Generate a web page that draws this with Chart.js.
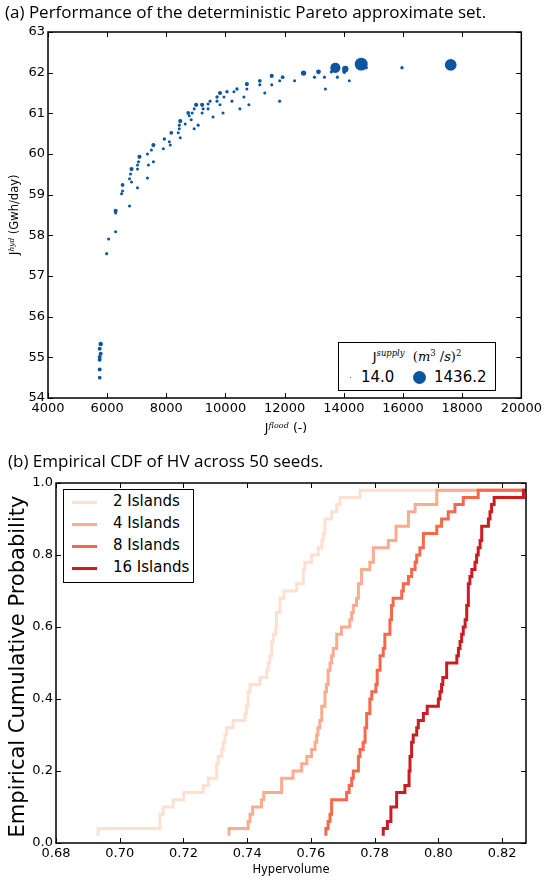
<!DOCTYPE html>
<html>
<head>
<meta charset="utf-8">
<script src="https://cdn.jsdelivr.net/npm/chart.js@4.4.0/dist/chart.umd.min.js"></script>
<style>
  body { margin: 0; background: #fff; }
  #page { position: relative; width: 545px; height: 884px; overflow: hidden; font-family: "DejaVu Sans", sans-serif; color: #000; }
  .box { position: absolute; }
  .txt { position: absolute; white-space: nowrap; line-height: 1; }
  .ttl { font-family: "Open Sans", sans-serif; font-size: 17px; }
  .math { font-family: "DejaVu Serif", serif; font-style: italic; }
  sup { font-size: 65%; line-height: 0; vertical-align: 0.55em; }
  .leg { position: absolute; border: 1px solid #000; background: #fff; box-sizing: border-box; }
  .dot { position: absolute; border-radius: 50%; background: #0d55a1; }
  .lsw { position: absolute; height: 3px; width: 25px; }
</style>
</head>
<body>
<div id="page">
  <div class="box" style="left:0;top:0;width:545px;height:440px;"><canvas id="chartA"></canvas></div>
  <div class="box" style="left:0;top:440px;width:545px;height:444px;"><canvas id="chartB"></canvas></div>

  <div class="txt ttl" style="left:5px;top:3px;">(a) Performance of the deterministic Pareto approximate set.</div>
  <div class="txt" style="left:48px;width:476px;top:422px;text-align:center;font-size:12.5px;">J<sup class="math">flood</sup> (-)</div>
  <div class="txt" style="left:-45px;top:209px;width:120px;text-align:center;font-size:11.5px;transform:rotate(-90deg);">J<sup class="math">hyd</sup> (Gwh/day)</div>

  <div class="leg" style="left:338px;top:342px;width:158px;height:49px;">
    <div class="txt" style="left:0;width:156px;top:7px;text-align:center;font-size:13px;">J<sup class="math">supply</sup>&nbsp; <span style="font-family:'DejaVu Serif',serif;">(<i>m</i><sup>3</sup> /<i>s</i>)<sup>2</sup></span></div>
    <div class="dot" style="left:11px;top:34px;width:1.4px;height:1.4px;"></div>
    <div class="txt" style="left:22px;top:27px;font-size:15px;">14.0</div>
    <div class="dot" style="left:74px;top:28px;width:13px;height:13px;"></div>
    <div class="txt" style="left:95px;top:27px;font-size:15px;">1436.2</div>
  </div>

  <div class="txt ttl" style="left:8px;top:452px;">(b) Empirical CDF of HV across 50 seeds.</div>
  <div class="txt" style="left:56px;width:470px;top:864px;text-align:center;font-size:11.5px;">Hypervolume</div>
  <div class="txt" style="left:-163px;top:656px;width:360px;text-align:center;font-size:21px;transform:rotate(-90deg);">Empirical Cumulative Probability</div>

  <div class="leg" style="left:63px;top:489px;width:131px;height:94px;" id="legB"></div>
</div>

<script>
// (a) deterministic Pareto approximate set
const floodX = [6050, 6286, 6286, 6286, 6756, 6487, 6521, 6521, 7025, 6756, 6823, 6790, 6823, 7025, 7361, 7025, 7059, 7092, 7395, 7563,
  7361, 7496, 7563, 7899, 7933, 8134, 8101, 8168, 8471, 8403, 8437, 8437, 8471, 8639, 8840, 8773, 8739, 8874, 8941, 9076,
  8941, 9008, 9210, 9210, 9244, 9412, 9412, 9479, 9580, 9714, 9714, 9815, 9815, 9916, 9949, 10050, 10218, 10286, 10387, 10487,
  10622, 10723, 10723, 10790, 11160, 11160, 11328, 11563, 11563, 11832, 11832, 11933, 12336, 12639, 13008, 13143, 13345, 13378, 13714, 13580,
  13782, 14050, 14017, 14185, 14588, 14756, 15966, 17613, 5983, 5781, 5748, 5781, 5748, 5748, 5748, 5748];
const hydY = [57.91, 58.09, 58.55, 58.60, 58.72, 59.02, 59.09, 59.24, 59.17, 59.39, 59.31, 59.51, 59.63, 59.63, 59.41, 59.73, 59.81, 59.93, 59.73, 59.81,
  60.00, 60.10, 60.22, 60.13, 60.37, 60.22, 60.30, 60.52, 60.40, 60.52, 60.62, 60.71, 60.81, 60.74, 60.84, 60.94, 61.01, 61.01, 60.62, 60.71,
  61.11, 61.21, 61.21, 61.01, 61.11, 61.11, 61.23, 61.30, 60.91, 61.30, 61.40, 61.50, 61.21, 61.01, 61.40, 61.53, 61.30, 61.53, 61.60, 61.11,
  61.40, 61.72, 61.60, 61.21, 61.80, 61.70, 61.50, 61.92, 61.70, 61.80, 61.30, 61.89, 61.80, 61.99, 61.89, 62.02, 61.89, 61.60, 62.12, 62.02,
  61.89, 62.09, 62.02, 61.80, 62.21, 62.12, 62.12, 62.19, 57.55, 55.33, 55.21, 55.09, 55.01, 54.94, 54.70, 54.50];
const supply = [80, 80, 80, 150, 80, 80, 80, 120, 80, 80, 80, 80, 150, 80, 80, 80, 80, 150, 80, 80,
  80, 80, 150, 80, 100, 80, 80, 120, 80, 80, 80, 80, 150, 80, 80, 80, 120, 80, 80, 80,
  80, 150, 150, 80, 80, 80, 80, 80, 80, 80, 100, 150, 80, 80, 80, 100, 80, 80, 100, 80,
  80, 150, 80, 80, 120, 80, 80, 150, 80, 80, 80, 120, 80, 250, 80, 200, 80, 80, 900, 100,
  80, 350, 150, 80, 1436.2, 100, 100, 1200, 80, 180, 140, 140, 140, 140, 140, 120];
const xTicksA = [4000, 6000, 8000, 10000, 12000, 14000, 16000, 18000, 20000];
const yTicksA = [54, 55, 56, 57, 58, 59, 60, 61, 62, 63];

// (b) empirical CDF: HV where the curve steps up, and the level reached
const hv2 = [0.6932, 0.7126, 0.7136, 0.7168, 0.7201, 0.7262, 0.7278, 0.7304, 0.7309, 0.7320, 0.7325, 0.7330, 0.7335, 0.7356, 0.7393, 0.7398, 0.7403, 0.7409, 0.7440, 0.7461,
  0.7466, 0.7471, 0.7477, 0.7482, 0.7490, 0.7492, 0.7503, 0.7515, 0.7555, 0.7576, 0.7581, 0.7602, 0.7623, 0.7634, 0.7639, 0.7644, 0.7665, 0.7681, 0.7691, 0.7754];
const p2 = [0.04, 0.08, 0.10, 0.12, 0.14, 0.16, 0.18, 0.22, 0.24, 0.26, 0.28, 0.30, 0.32, 0.34, 0.36, 0.38, 0.42, 0.44, 0.46, 0.48,
  0.50, 0.52, 0.56, 0.58, 0.60, 0.64, 0.68, 0.70, 0.72, 0.76, 0.78, 0.80, 0.82, 0.84, 0.86, 0.90, 0.92, 0.94, 0.96, 0.98];
const hv4 = [0.7343, 0.7403, 0.7409, 0.7417, 0.7445, 0.7452, 0.7508, 0.7544, 0.7571, 0.7587, 0.7602, 0.7613, 0.7618, 0.7622, 0.7628, 0.7634, 0.7644, 0.7649, 0.7654, 0.7660,
  0.7665, 0.7670, 0.7681, 0.7696, 0.7722, 0.7728, 0.7733, 0.7743, 0.7749, 0.7759, 0.7785, 0.7796, 0.7843, 0.7867, 0.7906, 0.7927, 0.7995];
const p4 = [0.04, 0.06, 0.08, 0.10, 0.12, 0.14, 0.18, 0.20, 0.22, 0.24, 0.26, 0.28, 0.30, 0.32, 0.34, 0.38, 0.42, 0.44, 0.48, 0.50,
  0.52, 0.54, 0.58, 0.60, 0.62, 0.64, 0.66, 0.68, 0.72, 0.76, 0.78, 0.82, 0.84, 0.88, 0.92, 0.94, 0.98];
const hv8 = [0.7647, 0.7654, 0.7660, 0.7665, 0.7712, 0.7720, 0.7728, 0.7733, 0.7749, 0.7754, 0.7764, 0.7770, 0.7775, 0.7785, 0.7791, 0.7804, 0.7808, 0.7817, 0.7827, 0.7832,
  0.7848, 0.7853, 0.7858, 0.7885, 0.7890, 0.7906, 0.7916, 0.7927, 0.7932, 0.7942, 0.7953, 0.7995, 0.8010, 0.8031, 0.8052, 0.8078, 0.8125];
const p8 = [0.04, 0.06, 0.08, 0.12, 0.14, 0.16, 0.18, 0.20, 0.24, 0.26, 0.28, 0.32, 0.36, 0.40, 0.42, 0.44, 0.48, 0.52, 0.54, 0.58,
  0.62, 0.66, 0.68, 0.70, 0.72, 0.74, 0.76, 0.78, 0.80, 0.82, 0.86, 0.88, 0.90, 0.92, 0.94, 0.96, 0.98];
const hv16 = [0.7827, 0.7840, 0.7851, 0.7869, 0.7895, 0.7908, 0.7911, 0.7916, 0.7921, 0.7932, 0.7937, 0.7953, 0.7965, 0.8000, 0.8005, 0.8010, 0.8014, 0.8026, 0.8058, 0.8063,
  0.8068, 0.8073, 0.8078, 0.8084, 0.8089, 0.8094, 0.8099, 0.8105, 0.8115, 0.8120, 0.8125, 0.8131, 0.8136, 0.8157, 0.8162, 0.8167, 0.8175, 0.8267];
const p16 = [0.04, 0.06, 0.10, 0.14, 0.16, 0.20, 0.24, 0.28, 0.30, 0.32, 0.34, 0.36, 0.38, 0.40, 0.42, 0.44, 0.46, 0.50, 0.52, 0.54,
  0.56, 0.58, 0.60, 0.62, 0.66, 0.72, 0.74, 0.76, 0.78, 0.80, 0.82, 0.84, 0.88, 0.90, 0.92, 0.94, 0.96, 0.98];
const seriesNames = ['2 Islands', '4 Islands', '8 Islands', '16 Islands'];
const seriesColors = ['#fde0d1', '#fcab8f', '#f5694a', '#cb1c22'];
const xTicksB = [0.68, 0.70, 0.72, 0.74, 0.76, 0.78, 0.80, 0.82];
const yTicksB = [0.0, 0.2, 0.4, 0.6, 0.8, 1.0];
const HV_MIN = 0.68, HV_MAX = 0.8275, P_START = 0.02;

// black frame + inward ticks on all four sides (matplotlib classic look)
const frameTicks = {
  id: 'frameTicks',
  afterDraw(chart, args, opts) {
    const { ctx, chartArea: a, scales } = chart;
    const len = opts.len || 5;
    ctx.save();
    ctx.strokeStyle = '#000';
    ctx.lineWidth = 1;
    ctx.beginPath();
    scales.x.ticks.forEach(t => {
      const px = Math.round(scales.x.getPixelForValue(t.value)) + 0.5;
      ctx.moveTo(px, a.bottom); ctx.lineTo(px, a.bottom - len);
      ctx.moveTo(px, a.top); ctx.lineTo(px, a.top + len);
    });
    scales.y.ticks.forEach(t => {
      const py = Math.round(scales.y.getPixelForValue(t.value)) + 0.5;
      ctx.moveTo(a.left, py); ctx.lineTo(a.left + len, py);
      ctx.moveTo(a.right, py); ctx.lineTo(a.right - len, py);
    });
    ctx.stroke();
    ctx.lineWidth = 1.5;
    ctx.strokeRect(a.left, a.top, a.right - a.left, a.bottom - a.top);
    ctx.restore();
  }
};

const tickFont = { family: 'DejaVu Sans', size: 13 };

function axis(min, max, ticks, fmt, fit) {
  return {
    type: 'linear', min, max,
    afterBuildTicks: s => { s.ticks = ticks.map(v => ({ value: v })); },
    afterFit: fit,
    grid: { display: false, drawTicks: false },
    border: { display: false },
    ticks: { color: '#000', font: tickFont, padding: 3, maxRotation: 0, autoSkip: false, callback: fmt }
  };
}

const radiusFor = s => Math.sqrt(s) * 0.17;

new Chart(document.getElementById('chartA'), {
  type: 'scatter',
  data: {
    datasets: [{
      data: floodX.map((x, i) => ({ x, y: hydY[i] })),
      backgroundColor: '#0d55a1',
      borderWidth: 0,
      pointRadius: supply.map(radiusFor),
      pointHoverRadius: supply.map(radiusFor)
    }]
  },
  options: {
    responsive: true,
    maintainAspectRatio: false,
    animation: false,
    layout: { padding: { top: 32, right: 21, left: 0, bottom: 0 } },
    plugins: { legend: { display: false }, tooltip: { enabled: false }, frameTicks: { len: 5 } },
    scales: {
      x: axis(4000, 20000, xTicksA, v => String(v), s => { s.height = 42; }),
      y: axis(54, 63, yTicksA, v => String(v), s => { s.width = 48; })
    }
  },
  plugins: [frameTicks]
});

function stepPath(hv, p) {
  const pts = [];
  let level = P_START;
  hv.forEach((x, i) => {
    pts.push({ x, y: level });
    pts.push({ x, y: p[i] });
    level = p[i];
  });
  pts.push({ x: HV_MAX, y: level });
  return pts;
}

const hvAll = [hv2, hv4, hv8, hv16];
const pAll = [p2, p4, p8, p16];

new Chart(document.getElementById('chartB'), {
  type: 'line',
  data: {
    datasets: seriesNames.map((name, i) => ({
      label: name,
      data: stepPath(hvAll[i], pAll[i]),
      borderColor: seriesColors[i],
      borderWidth: 3,
      borderCapStyle: 'butt',
      borderJoinStyle: 'miter',
      pointRadius: 0,
      tension: 0,
      order: 3 - i
    }))
  },
  options: {
    responsive: true,
    maintainAspectRatio: false,
    animation: false,
    layout: { padding: { top: 43, right: 19, left: 0, bottom: 0 } },
    plugins: { legend: { display: false }, tooltip: { enabled: false }, frameTicks: { len: 5 } },
    scales: {
      x: axis(HV_MIN, HV_MAX, xTicksB, v => v.toFixed(2), s => { s.height = 41; }),
      y: axis(0, 1, yTicksB, v => v.toFixed(1), s => { s.width = 56; })
    }
  },
  plugins: [frameTicks]
});

// legend for (b)
const legB = document.getElementById('legB');
seriesNames.forEach((name, i) => {
  const cy = 12 + i * 22;
  const sw = document.createElement('div');
  sw.className = 'lsw';
  sw.style.cssText = `left:8px;top:${cy - 1.5}px;background:${seriesColors[i]};`;
  legB.appendChild(sw);
  const t = document.createElement('div');
  t.className = 'txt';
  t.style.cssText = `left:49px;top:${cy - 8}px;font-size:15px;`;
  t.textContent = name;
  legB.appendChild(t);
});
</script>
</body>
</html>
